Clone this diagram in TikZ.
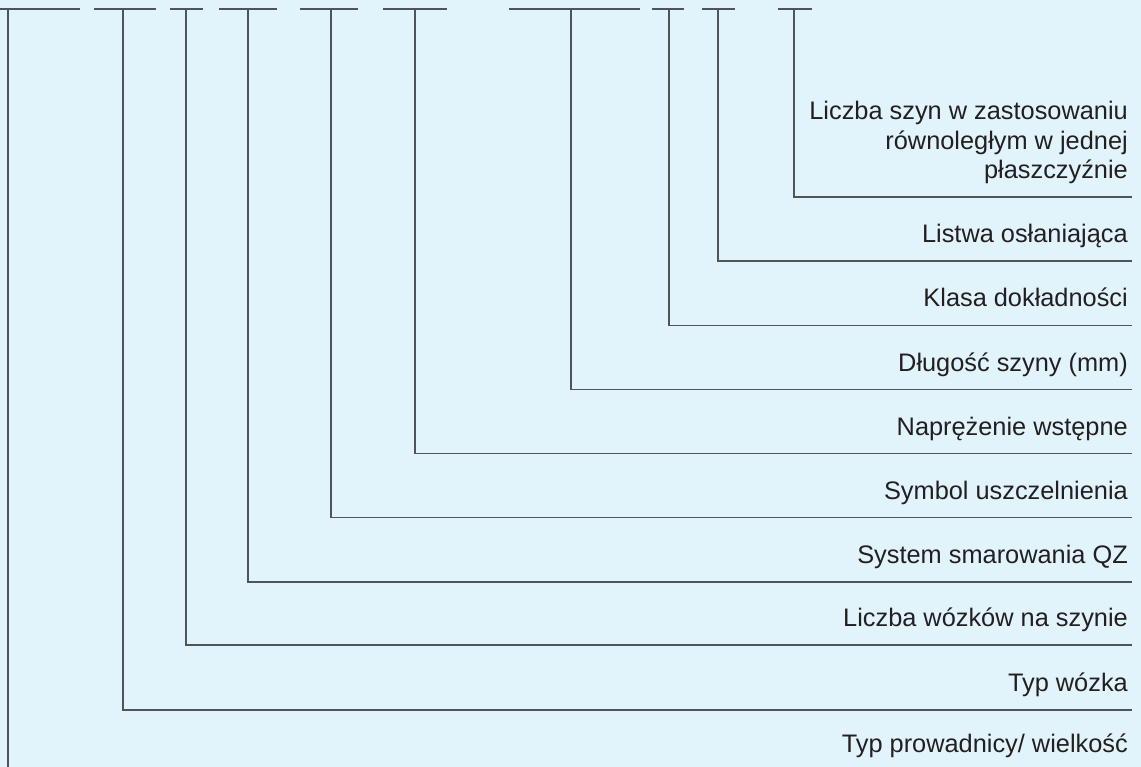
\documentclass[tikz,border=0pt]{standalone}
\usepackage{fontspec}
\setmainfont{Liberation Sans}
\definecolor{bgblue}{HTML}{E1F4FB}
\definecolor{linegray}{HTML}{4F5459}
\definecolor{txt}{HTML}{231F20}
\begin{document}
\begin{tikzpicture}[x=1pt,y=-1pt,
  ln/.style={draw=linegray,line width=1.8pt},
  lbl/.style={anchor=base east,inner sep=0pt,text=txt,font=\fontsize{25.35}{29.5}\selectfont,align=right}]
\fill[bgblue] (0,0) rectangle (1141,767);
\useasboundingbox (0,0) rectangle (1141,767);
% top blanks
\foreach \a/\b in {0/80,94/156,170/203,219/277,300/358,383/447,509/640,652/684,702/735,778/812}
  \draw[ln] (\a,9) -- (\b,9);
% tee coordinates
\coordinate (t1) at (8,9);
\coordinate (t2) at (123,9);
\coordinate (t3) at (186,9);
\coordinate (t4) at (248,9);
\coordinate (t5) at (331,9);
\coordinate (t6) at (415,9);
\coordinate (t7) at (571,9);
\coordinate (t8) at (669,9);
\coordinate (t9) at (718,9);
\coordinate (t10) at (794,9);
\coordinate (b1) at (8,767);
% end coordinates
\coordinate (e10) at (1132,197);
\coordinate (e9) at (1132,261);
\coordinate (e8) at (1132,325.5);
\coordinate (e7) at (1132,389.5);
\coordinate (e6) at (1132,453.5);
\coordinate (e5) at (1132,517.5);
\coordinate (e4) at (1132,582);
\coordinate (e3) at (1132,645);
\coordinate (e2) at (1132,710);
\draw[ln] (t1) -- (b1);
\foreach \i in {2,...,10}
  \draw[ln] (t\i) |- (e\i);
% labels
\node[lbl] (l10) at (1128,179) {Liczba szyn w zastosowaniu\\ równoległym w jednej\\ płaszczyźnie};
\node[lbl] (l9) at (1128,243) {Listwa osłaniająca};
\node[lbl] (l8) at (1128,307) {Klasa dokładności};
\node[lbl] (l7) at (1128,371) {Długość szyny (mm)};
\node[lbl] (l6) at (1128,435) {Naprężenie wstępne};
\node[lbl] (l5) at (1128,499) {Symbol uszczelnienia};
\node[lbl] (l4) at (1128,563) {System smarowania QZ};
\node[lbl] (l3) at (1128,626) {Liczba wózków na szynie};
\node[lbl] (l2) at (1128,691) {Typ wózka};
\node[lbl] (l1) at (1128,752) {Typ prowadnicy/ wielkość};
\end{tikzpicture}
\end{document}
